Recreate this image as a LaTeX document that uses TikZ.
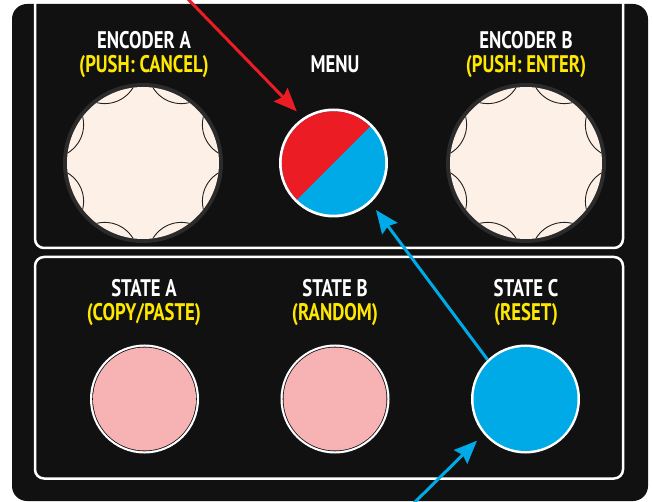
\documentclass[tikz,border=0pt]{standalone}
\usepackage{fontspec}
\setmainfont{PT Sans}[FakeStretch=0.78]
\usetikzlibrary{arrows.meta,calc}
\definecolor{panel}{HTML}{111111}
\definecolor{ringgray}{HTML}{2B2B2B}
\definecolor{cream}{HTML}{FDF0E6}
\definecolor{scal}{HTML}{222222}
\definecolor{mred}{HTML}{EC1C24}
\definecolor{mblue}{HTML}{00AAE7}
\definecolor{pinkb}{HTML}{F7B2B4}
\definecolor{yel}{HTML}{FFE800}
\tikzset{
  lbl/.style={font=\fontsize{24}{24}\selectfont\bfseries, text=white, inner sep=0pt, anchor=base},
  sublbl/.style={lbl, text=yel},
  knob/.style={circle, minimum size=160pt, inner sep=0pt, outer sep=0pt, fill=ringgray},
  btn/.style={circle, minimum size=109pt, inner sep=0pt, outer sep=0pt, fill=white},
  scallop/.style={draw=scal, line width=0.9pt},
  arr/.style={line width=3pt, -{Stealth[length=23pt,width=19pt,inset=3pt]}},
  section/.style={draw=white, line width=2.5pt, rounded corners=9pt},
}
\begin{document}
\begin{tikzpicture}[x=1pt,y=-1pt]
\useasboundingbox (0,0) rectangle (653,502);
\clip (0,0) rectangle (653,502);
\fill[white] (0,0) rectangle (653,502);
% panel
\fill[panel, rounded corners=15pt] (12,4) rectangle (648,501);
% sections
\draw[section] (35,-20) rectangle (623,248);
\draw[section] (35,257) rectangle (623,478.5);

% labels
\node[lbl] (encAt) at (144,48.5) {ENCODER A};
\node[sublbl] (encAs) at (144,72.5) {(PUSH: CANCEL)};
\node[lbl] (menut) at (335,73) {MENU};
\node[lbl] (encBt) at (526,48.5) {ENCODER B};
\node[sublbl] (encBs) at (526,72.5) {(PUSH: ENTER)};
\node[lbl] (staT) at (144,296.5) {STATE A};
\node[sublbl] (staS) at (144,320.5) {(COPY/PASTE)};
\node[lbl] (stbT) at (335,296.5) {STATE B};
\node[sublbl] (stbS) at (335,320.5) {(RANDOM)};
\node[lbl] (stcT) at (526,296.5) {STATE C};
\node[sublbl] (stcS) at (526,320.5) {(RESET)};

% encoders
\foreach \nm/\px in {encA/143,encB/526}{
  \node[knob] (\nm) at (\px,163) {};
  \fill[cream] (\nm.center) circle[radius=76pt];
  \begin{scope}
    \clip (\nm.center) circle[radius=76pt];
    \foreach \a in {22.5,67.5,...,337.5}
      \draw[scallop] (\nm.center) ++(\a:100) circle[radius=33pt];
  \end{scope}
}

% menu button
\node[btn] (menu) at (333.5,163) {};
\begin{scope}
  \clip (menu.center) circle[radius=51.7pt];
  \fill[mblue] (menu.center) circle[radius=53pt];
  \fill[mred] ($(menu.center)+(-70,70)$) -- ($(menu.center)+(70,-70)$) -- ($(menu.center)+(-70,-70)$) -- cycle;
\end{scope}

% state buttons
\foreach \nm/\px in {sta/144.5,stb/335}{
  \node[btn] (\nm) at (\px,399) {};
  \fill[panel] (\nm.center) circle[radius=52.3pt];
  \fill[pinkb] (\nm.center) circle[radius=51.5pt];
}
\node[btn] (stc) at (525.5,399) {};
\fill[mblue] (stc.center) circle[radius=52pt];

% arrows
\coordinate (rs) at (185,-4);
\coordinate (bs) at (413,504);
\draw[arr, mred, shorten >=9pt] (rs) -- (menu.124);
\draw[arr, mblue, shorten >=9pt] (stc.134) -- (menu.313);
\draw[arr, mblue, shorten >=9.5pt] (bs) -- (stc.220);
\end{tikzpicture}
\end{document}
